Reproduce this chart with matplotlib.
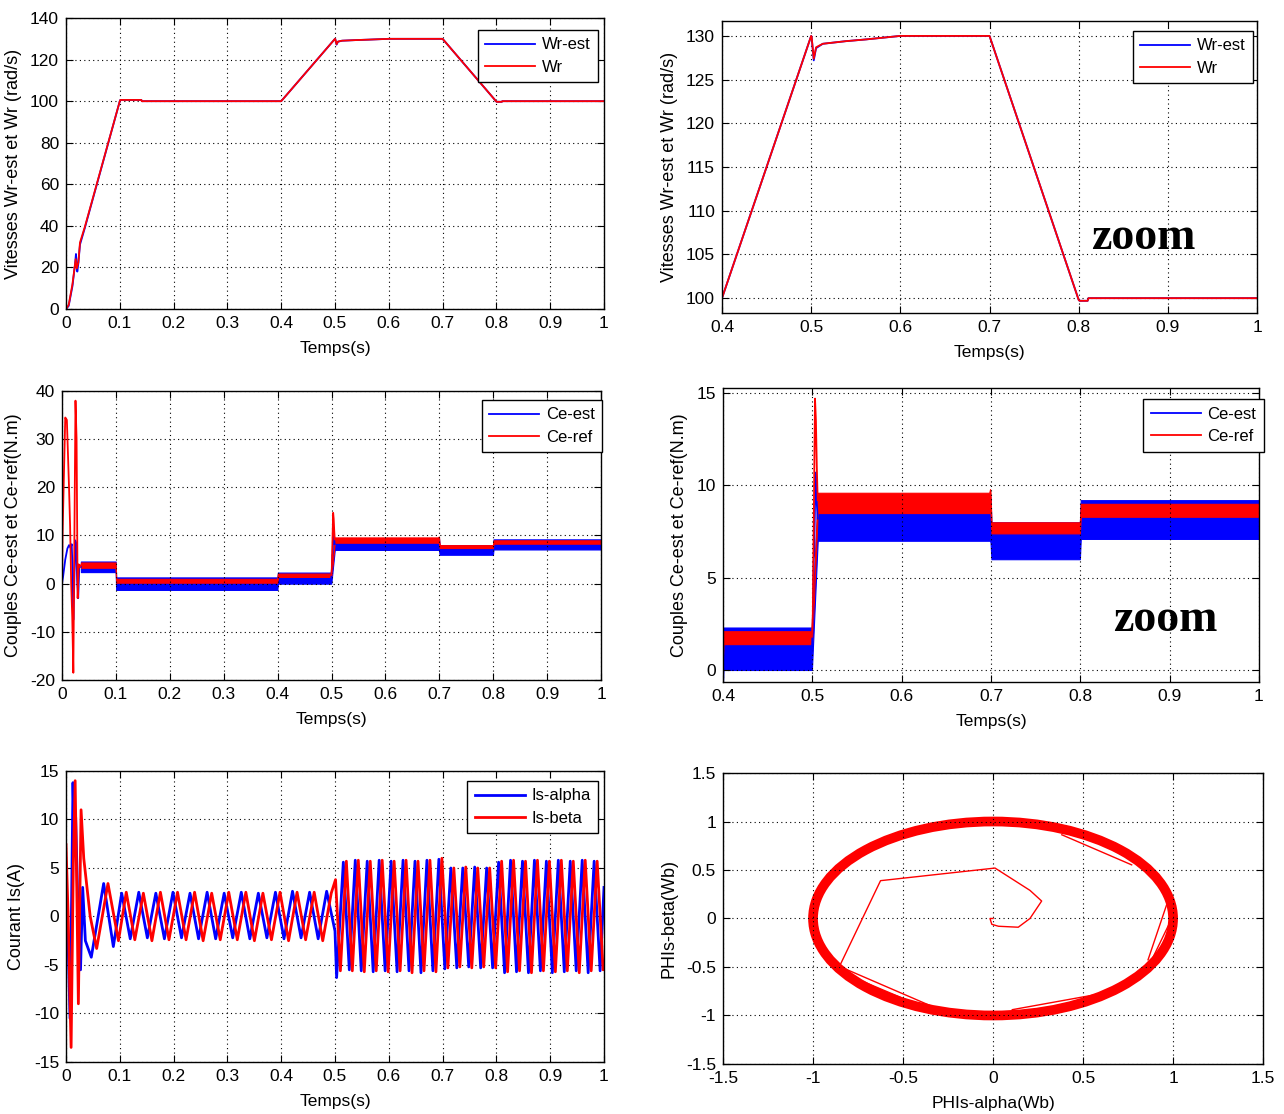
import matplotlib
matplotlib.use('Agg')
import matplotlib.pyplot as plt
from matplotlib.patches import Ellipse
from matplotlib.ticker import FuncFormatter

SANS = ['Liberation Sans', 'DejaVu Sans']
plt.rcParams['font.family'] = SANS
plt.rcParams['axes.unicode_minus'] = False

BLUE = '#0000FF'
RED = '#FF0000'

# ---------------- vitesses (rad/s) ----------------
wr_t = [0.0, 0.005, 0.012, 0.018, 0.020, 0.023, 0.026, 0.035, 0.100, 0.101, 0.140, 0.141,
        0.400, 0.500, 0.5005, 0.5029, 0.5055, 0.513, 0.539, 0.5615, 0.600, 0.700, 0.800,
        0.801, 0.810, 0.811, 1.000]
wr_v = [0.0, 2.0, 12.0, 24.0, 19.5, 22.5, 32.0, 39.5, 100.0, 100.6, 100.6, 100.0,
        100.0, 130.0, 129.9, 127.4, 128.7, 129.1, 129.4, 129.6, 130.0, 130.0, 99.8,
        99.7, 99.7, 100.0, 100.0]
wr_est_t = [0.0, 0.005, 0.012, 0.017, 0.0185, 0.021, 0.023, 0.026, 0.035, 0.100, 0.101,
            0.140, 0.141, 0.400, 0.500, 0.5005, 0.5029, 0.5055, 0.513, 0.539, 0.5615,
            0.600, 0.700, 0.800, 0.801, 0.810, 0.811, 1.000]
wr_est_v = [0.0, 1.5, 11.0, 22.0, 26.5, 18.0, 22.0, 31.0, 39.0, 100.0, 100.6,
            100.6, 100.0, 100.0, 130.0, 129.9, 127.2, 128.6, 129.1, 129.4, 129.6,
            130.0, 130.0, 99.8, 99.7, 99.7, 100.0, 100.0]

# ---------------- couples (N.m) ----------------
# bandes d'ondulation (min / max) en regime etabli
ce_band_t = [0.035, 0.0995, 0.1005, 0.3995, 0.4005, 0.4995, 0.506, 0.698, 0.699, 0.6995,
             0.7005, 0.7995, 0.8005, 1.0]
ce_est_lo = [2.4, 2.4, -1.3, -1.3, 0.0, 0.0, 7.0, 7.0, 7.0, 6.9, 6.0, 6.0, 7.1, 7.1]
ce_est_hi = [4.6, 4.6, 1.3, 1.3, 2.3, 2.3, 9.3, 9.3, 9.4, 9.3, 8.0, 8.0, 9.2, 9.2]
ce_ref_lo = [3.3, 3.3, 0.2, 0.2, 1.4, 1.4, 8.5, 8.5, 8.5, 8.5, 7.4, 7.4, 8.3, 8.3]
ce_ref_hi = [4.4, 4.4, 1.0, 1.0, 2.1, 2.1, 9.6, 9.6, 9.8, 9.6, 8.0, 8.0, 9.0, 9.0]
# demarrage
ce_est_tr_t = [0.0, 0.002, 0.006, 0.010, 0.013, 0.016, 0.018, 0.0195, 0.021, 0.0225,
               0.0245, 0.026, 0.028, 0.030, 0.032, 0.035]
ce_est_tr_v = [0.0, 1.5, 5.0, 7.3, 8.0, 7.4, 8.2, 3.0, -7.5, -1.0, 9.0, 8.5, 1.0, -3.0, 3.5, 3.5]
ce_ref_tr_t = [0.0, 0.001, 0.003, 0.006, 0.009, 0.011, 0.013, 0.015, 0.017, 0.019, 0.021,
               0.023, 0.025, 0.027, 0.029, 0.031, 0.033, 0.035]
ce_ref_tr_v = [0.0, 10.0, 20.0, 34.5, 34.0, 27.0, 20.0, 12.0, 0.0, -7.0, -18.5,
               10.0, 38.0, 30.0, -3.0, 4.0, 3.5, 3.8]
# application de la charge a t = 0.5 s
ce_est_sp_t = [0.4995, 0.5005, 0.5015, 0.502, 0.503, 0.504, 0.505, 0.506]
ce_est_sp_v = [1.0, 2.5, 6.0, 6.2, 9.0, 10.7, 9.0, 8.2]
ce_ref_sp_t = [0.4995, 0.5005, 0.502, 0.503, 0.504, 0.505, 0.506]
ce_ref_sp_v = [1.8, 3.0, 10.0, 14.7, 13.5, 11.0, 9.2]

# ---------------- courants (A) : extremums ----------------
is_alpha_t = [0.0, 0.004, 0.0075, 0.0105, 0.013, 0.0155, 0.018, 0.023, 0.027, 0.031, 0.036,
              0.047, 0.070, 0.088,
              0.1035, 0.1194, 0.1353, 0.1512, 0.1670, 0.1829, 0.1988, 0.2147, 0.2305, 0.2464,
              0.2623, 0.2782, 0.2940, 0.3099, 0.3258, 0.3417, 0.3575, 0.3734, 0.3893, 0.4052,
              0.4210, 0.4369, 0.4528, 0.4687, 0.4845, 0.5000, 0.5030,
              0.5155, 0.5266, 0.5377, 0.5488, 0.5599, 0.5710, 0.5821, 0.5932, 0.6043, 0.6154,
              0.6265, 0.6376, 0.6487, 0.6598, 0.6709, 0.6820, 0.6931, 0.7042, 0.7153, 0.7264,
              0.7375, 0.7486, 0.7597, 0.7708, 0.7819, 0.7930, 0.8041, 0.8152, 0.8263, 0.8374,
              0.8485, 0.8596, 0.8707, 0.8818, 0.8929, 0.9040, 0.9151, 0.9262, 0.9373, 0.9484,
              0.9595, 0.9706, 0.9817, 0.9928, 1.0]
is_alpha_v = [0.0, -3.0, -10.5, 2.0, 13.8, 8.0, 10.2, -1.0, -5.5, 3.0, -2.5,
              -4.2, 3.4, -3.1,
              2.4, -2.3, 2.5, -2.2, 2.4, -2.3, 2.5, -2.2, 2.4, -2.3,
              2.5, -2.3, 2.4, -2.2, 2.5, -2.3, 2.4, -2.2, 2.5, -2.3,
              2.6, -2.2, 2.5, -2.3, 2.6, -1.5, -6.3,
              5.6, -5.5, 5.8, -5.6, 5.7, -5.7, 5.8, -5.6, 5.7, -5.7,
              5.8, -5.6, 5.7, -5.8, 5.8, -5.6, 5.9, -5.4, 5.0, -5.3,
              5.0, -5.2, 5.1, -5.3, 5.0, -5.3, 5.6, -5.8, 5.8, -5.7,
              5.7, -5.8, 5.8, -5.6, 5.7, -5.8, 5.8, -5.7, 5.7, -5.6,
              5.8, -5.8, 5.7, -5.6, 3.0]
is_beta_t = [0.0, 0.004, 0.0095, 0.0135, 0.017, 0.020, 0.023, 0.028, 0.033, 0.045, 0.057,
             0.078, 0.0975,
             0.1120, 0.1279, 0.1438, 0.1597, 0.1755, 0.1914, 0.2073, 0.2232, 0.2390, 0.2549,
             0.2708, 0.2867, 0.3025, 0.3184, 0.3343, 0.3502, 0.3660, 0.3819, 0.3978, 0.4137,
             0.4295, 0.4454, 0.4613, 0.4772, 0.4930, 0.5010,
             0.5100, 0.5211, 0.5322, 0.5433, 0.5544, 0.5655, 0.5766, 0.5877, 0.5988, 0.6099,
             0.6210, 0.6321, 0.6432, 0.6543, 0.6654, 0.6765, 0.6876, 0.6987, 0.7098, 0.7209,
             0.7320, 0.7431, 0.7542, 0.7653, 0.7764, 0.7875, 0.7986, 0.8097, 0.8208, 0.8319,
             0.8430, 0.8541, 0.8652, 0.8763, 0.8874, 0.8985, 0.9096, 0.9207, 0.9318, 0.9429,
             0.9540, 0.9651, 0.9762, 0.9873, 0.9984, 1.0]
is_beta_v = [7.4, 0.0, -13.5, 5.0, 14.0, 3.0, -9.0, 11.0, 6.0, 0.0, -3.3,
             3.4, -2.5,
             2.5, -2.4, 2.4, -2.5, 2.5, -2.4, 2.5, -2.4, 2.5, -2.5,
             2.4, -2.4, 2.5, -2.4, 2.5, -2.5, 2.4, -2.4, 2.5, -2.5,
             2.5, -2.4, 2.5, -2.5, 2.4, 3.8,
             -5.6, 5.7, -5.6, 5.8, -5.7, 5.7, -5.6, 5.8, -5.7, 5.7,
             -5.6, 5.8, -5.8, 5.7, -5.6, 5.8, -5.7, 6.0, -5.3, 5.0,
             -5.2, 5.1, -5.3, 5.0, -5.2, 5.0, -5.3, 5.7, -5.7, 5.8,
             -5.6, 5.7, -5.8, 5.8, -5.6, 5.7, -5.7, 5.8, -5.6, 5.7,
             -5.8, 5.8, -5.6, 5.7, -5.5, -5.0]

# ---------------- flux statorique (Wb) ----------------
ring_center = (0.0, 0.0)
ring_radius = 1.0
phi_alpha_tr = [0.0, -0.017, -0.007, 0.03, 0.14, 0.205, 0.27, 0.205, 0.011, -0.625, -0.847]
phi_beta_tr = [0.0, 0.0, -0.06, -0.08, -0.09, 0.0, 0.18, 0.29, 0.52, 0.39, -0.47]
chord_alpha = [[-0.852, -0.338], [-0.875, -0.372], [0.564, 0.107], [0.964, 0.861],
               [0.998, 0.873], [0.382, 0.770]]
chord_beta = [[-0.495, -0.907], [-0.53, -0.924], [-0.787, -0.94], [0.14, -0.426],
              [0.02, -0.46], [0.863, 0.553]]

fmt = FuncFormatter(lambda v, p: f'{round(v, 6):g}')


def style(ax, xlim, ylim, xticks, yticks, xlabel, ylabel):
    ax.set_xlim(xlim)
    ax.set_ylim(ylim)
    ax.set_xticks(xticks)
    ax.set_yticks(yticks)
    ax.xaxis.set_major_formatter(fmt)
    ax.yaxis.set_major_formatter(fmt)
    ax.grid(True, color='black', linestyle=(0, (1, 3)), linewidth=0.8)
    ax.tick_params(direction='in', top=True, right=True, length=5, width=0.8,
                   labelsize=12.5, pad=5, colors='black')
    for s in ax.spines.values():
        s.set_linewidth(1.0)
    ax.set_xlabel(xlabel, fontsize=12.5, labelpad=7)
    ax.set_ylabel(ylabel, fontsize=13, labelpad=6)


def legend(ax, handles, labels, x, y):
    leg = ax.legend(handles, labels, loc='upper right', bbox_to_anchor=(x, y),
                    borderaxespad=0, fancybox=False, framealpha=1, edgecolor='black',
                    fontsize=12, handlelength=3, handletextpad=0.4, labelspacing=0.45,
                    borderpad=0.45)
    leg.get_frame().set_linewidth(1.0)


fig = plt.figure(figsize=(12.84, 11.14), dpi=100, facecolor='white')
ax1 = fig.add_axes([0.0514, 0.7226, 0.4190, 0.2612])
ax2 = fig.add_axes([0.5623, 0.7190, 0.4167, 0.2621])
ax3 = fig.add_axes([0.0483, 0.3896, 0.4198, 0.2594])
ax4 = fig.add_axes([0.5631, 0.3878, 0.4174, 0.2635])
ax5 = fig.add_axes([0.0514, 0.0467, 0.4190, 0.2612])
ax6 = fig.add_axes([0.5631, 0.0449, 0.4206, 0.2612])

t_ticks = [0, 0.1, 0.2, 0.3, 0.4, 0.5, 0.6, 0.7, 0.8, 0.9, 1]
tz_ticks = [0.4, 0.5, 0.6, 0.7, 0.8, 0.9, 1]

# vitesses
for ax in (ax1, ax2):
    l1, = ax.plot(wr_est_t, wr_est_v, color=BLUE, lw=1.3)
    l2, = ax.plot(wr_t, wr_v, color=RED, lw=1.3)
    legend(ax, [l1, l2], ['Wr-est', 'Wr'], *((0.989, 0.959) if ax is ax1 else (0.9925, 0.966)))
style(ax1, (0, 1), (0, 140), t_ticks, [0, 20, 40, 60, 80, 100, 120, 140],
      'Temps(s)', 'Vitesses Wr-est et Wr (rad/s)')
style(ax2, (0.4, 1.0), (98.3, 131.7), tz_ticks, [100, 105, 110, 115, 120, 125, 130],
      'Temps(s)', 'Vitesses Wr-est et Wr (rad/s)')

# couples
for ax in (ax3, ax4):
    l1, = ax.plot(ce_est_tr_t, ce_est_tr_v, color=BLUE, lw=1.3)
    l2, = ax.plot(ce_ref_tr_t, ce_ref_tr_v, color=RED, lw=1.3)
    ax.fill_between(ce_band_t, ce_est_lo, ce_est_hi, color=BLUE, lw=0.8)
    ax.plot(ce_est_sp_t, ce_est_sp_v, color=BLUE, lw=1.3)
    ax.fill_between(ce_band_t, ce_ref_lo, ce_ref_hi, color=RED, lw=0.8)
    ax.plot(ce_ref_sp_t, ce_ref_sp_v, color=RED, lw=1.3)
    legend(ax, [l1, l2], ['Ce-est', 'Ce-ref'], *((1.002, 0.969) if ax is ax3 else (1.009, 0.964)))
style(ax3, (0, 1), (-20, 40), t_ticks, [-20, -10, 0, 10, 20, 30, 40],
      'Temps(s)', 'Couples Ce-est et Ce-ref(N.m)')
style(ax4, (0.4, 1.0), (-0.65, 15.25), tz_ticks, [0, 5, 10, 15],
      'Temps(s)', 'Couples Ce-est et Ce-ref(N.m)')

# courants
l1, = ax5.plot(is_alpha_t, is_alpha_v, color=BLUE, lw=2.0)
l2, = ax5.plot(is_beta_t, is_beta_v, color=RED, lw=2.0)
style(ax5, (0, 1), (-15, 15), t_ticks, [-15, -10, -5, 0, 5, 10, 15],
      'Temps(s)', 'Courant Is(A)')
legend(ax5, [l1, l2], ['Is-alpha', 'Is-beta'], 0.989, 0.966)

# flux
ax6.add_patch(Ellipse(ring_center, 2 * ring_radius, 2 * ring_radius, fill=False,
                      edgecolor=RED, lw=7))
ax6.plot(phi_alpha_tr, phi_beta_tr, color=RED, lw=1.0)
for ca, cb in zip(chord_alpha, chord_beta):
    ax6.plot(ca, cb, color=RED, lw=1.0)
ticks6 = [-1.5, -1, -0.5, 0, 0.5, 1, 1.5]
style(ax6, (-1.5, 1.5), (-1.5, 1.5), ticks6, ticks6, 'PHIs-alpha(Wb)', 'PHIs-beta(Wb)')

# annotations
for ax, x, y in ((ax2, 0.787, 0.257), (ax4, 0.825, 0.211)):
    ax.text(x, y, 'zoom', transform=ax.transAxes, ha='center', va='center',
            family=['Liberation Serif', 'DejaVu Serif'], fontweight='bold', fontsize=33)

fig.savefig('out.png', dpi=100, facecolor='white')
